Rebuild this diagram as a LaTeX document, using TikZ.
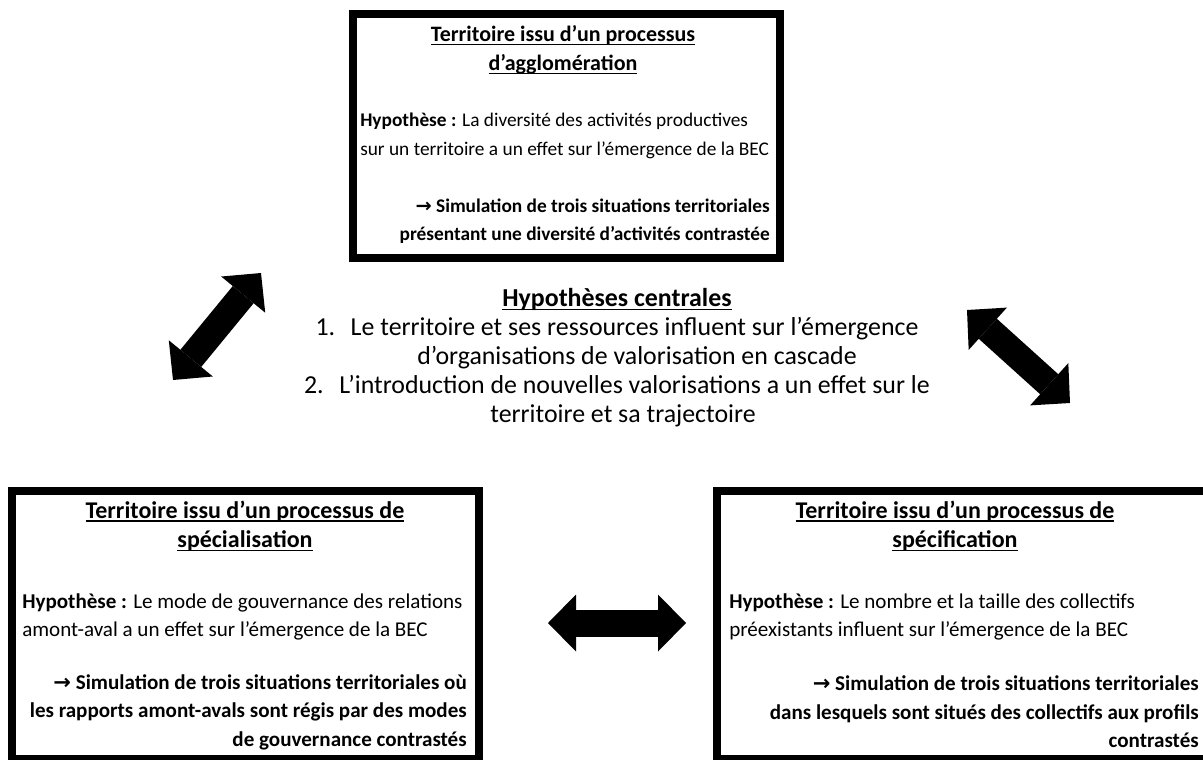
\documentclass[tikz,border=0pt]{standalone}
\usepackage{fontspec}
\setmainfont{Carlito}
\newfontfamily\symbfont{DejaVu Sans}
\usetikzlibrary{arrows.meta,positioning}

\newcommand{\topfont}{\fontsize{14.5pt}{21.4pt}\selectfont}
\newcommand{\toptitlefont}{\fontsize{16.5pt}{21.75pt}\selectfont}
\newcommand{\botfont}{\fontsize{15.8pt}{21.4pt}\selectfont}
\newcommand{\bottitlefont}{\fontsize{18pt}{22pt}\selectfont}
\newcommand{\centralfont}{\fontsize{19.4pt}{21.75pt}\selectfont}
\newcommand{\conclarrow}{{\symbfont\char"2192}}
\newsavebox{\ulnbox}
\newcommand{\uln}[1]{\leavevmode\sbox{\ulnbox}{#1}\rlap{\rule[-2.6pt]{\wd\ulnbox}{1pt}}\usebox{\ulnbox}}

\begin{document}
\begin{tikzpicture}[x=0.75pt, y=-0.75pt,
    hypbox/.style={draw, line width=6pt, inner sep=0pt},
    boxtitle/.style={font=#1\bfseries, align=center, inner sep=0pt},
    boxhyp/.style={font=#1, align=left, inner sep=0pt, anchor=west},
    boxsim/.style={font=#1\bfseries, align=right, inner sep=0pt, anchor=east},
    dblarrow/.style={line width=20.25pt,
        {Triangle[length=21pt, width=42.75pt, line width=0pt]}-{Triangle[length=21pt, width=42.75pt, line width=0pt]}}
]
\useasboundingbox (0,0) rectangle (1203,760);
\clip (0,0) rectangle (1203,760);

% agglomeration (top)
\node[hypbox, minimum width=320.25pt, minimum height=183pt] (aggl) at (566.5,136) {};
\node[boxtitle=\toptitlefont] (agglttl) at (563,50) {\uln{Territoire issu d’un processus}\\\uln{d’agglomération}};
\node[boxhyp=\topfont] (agglhyp) at (360,136) {\textbf{Hypothèse :} La diversité des activités productives\\sur un territoire a un effet sur l’émergence de la BEC};
\node[boxsim=\topfont] (agglsim) at (770,221) {\conclarrow{} Simulation de trois situations territoriales\\présentant une diversité d’activités contrastée};

% specialisation (bottom left)
\node[hypbox, minimum width=350.25pt, minimum height=201pt] (spec) at (245.5,625) {};
\node[boxtitle=\bottitlefont] (specttl) at (245,526) {\uln{Territoire issu d’un processus de}\\\uln{spécialisation}};
\node[boxhyp=\botfont] (spechyp) at (22,617) {\textbf{Hypothèse :} Le mode de gouvernance des relations\\amont-aval a un effet sur l’émergence de la BEC};
\node[boxsim=\botfont] (specsim) at (467,712) {\conclarrow{} Simulation de trois situations territoriales où\\les rapports amont-avals sont régis par des modes\\de gouvernance contrastés};

% specification (bottom right)
\node[hypbox, minimum width=370.5pt, minimum height=201pt] (specif) at (964,625) {};
\node[boxtitle=\bottitlefont] (specifttl) at (955,526) {\uln{Territoire issu d’un processus de}\\\uln{spécification}};
\node[boxhyp=\botfont] (specifhyp) at (729,617) {\textbf{Hypothèse :} Le nombre et la taille des collectifs\\préexistants influent sur l’émergence de la BEC};
\node[boxsim=\botfont] (specifsim) at (1199,712) {\conclarrow{} Simulation de trois situations territoriales\\dans lesquels sont situés des collectifs aux profils\\contrastés};

% central hypotheses
\node[font=\centralfont, align=center] (central) at (617,358) {%
  \textbf{\uln{Hypothèses centrales}}\\
  1.\hspace{0.6em}Le territoire et ses ressources influent sur l’émergence\\
  \hspace*{30pt}d’organisations de valorisation en cascade\\
  2.\hspace{0.6em}L’introduction de nouvelles valorisations a un effet sur le\\
  \hspace*{9pt}territoire et sa trajectoire};

% double arrows
\coordinate (specend) at (173,380);
\coordinate (agglend) at (261,273);
\coordinate (agglend2) at (967,310);
\coordinate (specifend) at (1070,403);
\coordinate (specmid) at (548,623);
\coordinate (specifmid) at (686,623);
\draw[dblarrow] (specend) -- (agglend);
\draw[dblarrow] (agglend2) -- (specifend);
\draw[dblarrow] (specmid) -- (specifmid);
\end{tikzpicture}
\end{document}
